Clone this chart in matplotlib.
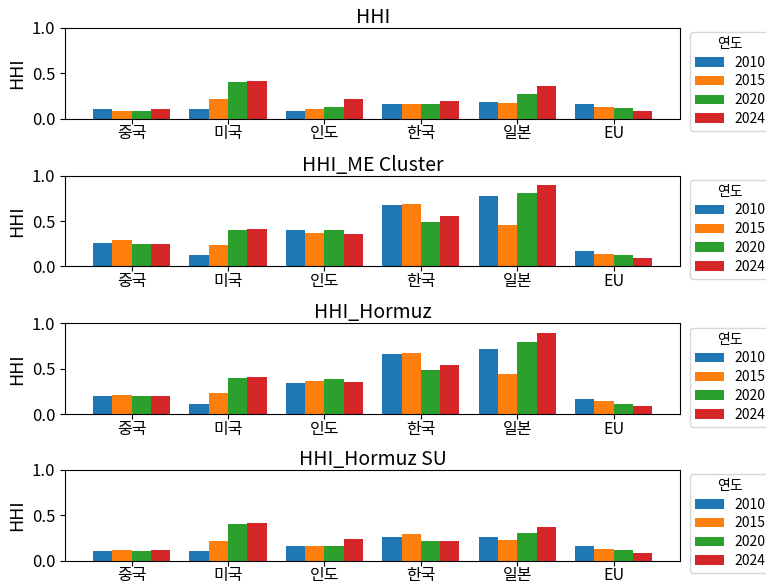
import numpy as np
import matplotlib
matplotlib.use("Agg")
import matplotlib.pyplot as plt

plt.rcParams['font.family'] = ['Noto Sans CJK KR', 'DejaVu Sans']

countries = ["중국", "미국", "인도", "한국", "일본", "EU"]
years = ["2010", "2015", "2020", "2024"]
colors = ["#1f77b4", "#ff7f0e", "#2ca02c", "#d62728"]

# HHI 값 (국가 x 연도)
hhi = [[0.10, 0.086, 0.086, 0.11],
       [0.10, 0.22, 0.40, 0.41],
       [0.085, 0.11, 0.13, 0.215],
       [0.165, 0.16, 0.165, 0.19],
       [0.18, 0.175, 0.275, 0.355],
       [0.16, 0.13, 0.115, 0.085]]

hhi_me = [[0.26, 0.29, 0.25, 0.25],
          [0.125, 0.24, 0.40, 0.41],
          [0.40, 0.365, 0.40, 0.355],
          [0.68, 0.69, 0.49, 0.55],
          [0.775, 0.46, 0.81, 0.90],
          [0.17, 0.135, 0.125, 0.095]]

hhi_hormuz = [[0.20, 0.21, 0.20, 0.205],
              [0.11, 0.24, 0.40, 0.41],
              [0.35, 0.365, 0.39, 0.355],
              [0.66, 0.68, 0.49, 0.545],
              [0.72, 0.445, 0.80, 0.895],
              [0.17, 0.145, 0.12, 0.095]]

hhi_hormuz_su = [[0.11, 0.115, 0.10, 0.12],
                 [0.10, 0.22, 0.40, 0.41],
                 [0.165, 0.165, 0.165, 0.235],
                 [0.26, 0.29, 0.21, 0.22],
                 [0.26, 0.23, 0.30, 0.37],
                 [0.16, 0.13, 0.115, 0.08]]

titles = ["HHI", "HHI_ME Cluster", "HHI_Hormuz", "HHI_Hormuz SU"]
panels = [hhi, hhi_me, hhi_hormuz, hhi_hormuz_su]

fig = plt.figure(figsize=(7.66, 5.87), dpi=100)
bottoms = [0.798, 0.546, 0.294, 0.045]
x = np.arange(len(countries))
w = 0.2

for b, title, data in zip(bottoms, titles, panels):
    ax = fig.add_axes([0.085, b, 0.803, 0.155])
    data = np.array(data)
    for j, yr in enumerate(years):
        ax.bar(x + (j - 1.5) * w, data[:, j], w, color=colors[j], label=yr)
    ax.set_ylim(0, 1.0)
    ax.set_yticks([0, 0.5, 1.0])
    ax.set_xticks(x)
    ax.set_xticklabels(countries, fontsize=11.5)
    ax.tick_params(axis='x', pad=1)
    ax.tick_params(axis='y', labelsize=12)
    ax.set_ylabel("HHI", fontsize=13)
    ax.set_title(title, fontsize=14, pad=3)
    ax.legend(title="연도", loc="upper left", bbox_to_anchor=(1.005, 1.03),
              fontsize=10, title_fontsize=10, labelspacing=0.35,
              handlelength=2.1, handletextpad=0.7, borderpad=0.35)

fig.savefig("out.png", dpi=100)
